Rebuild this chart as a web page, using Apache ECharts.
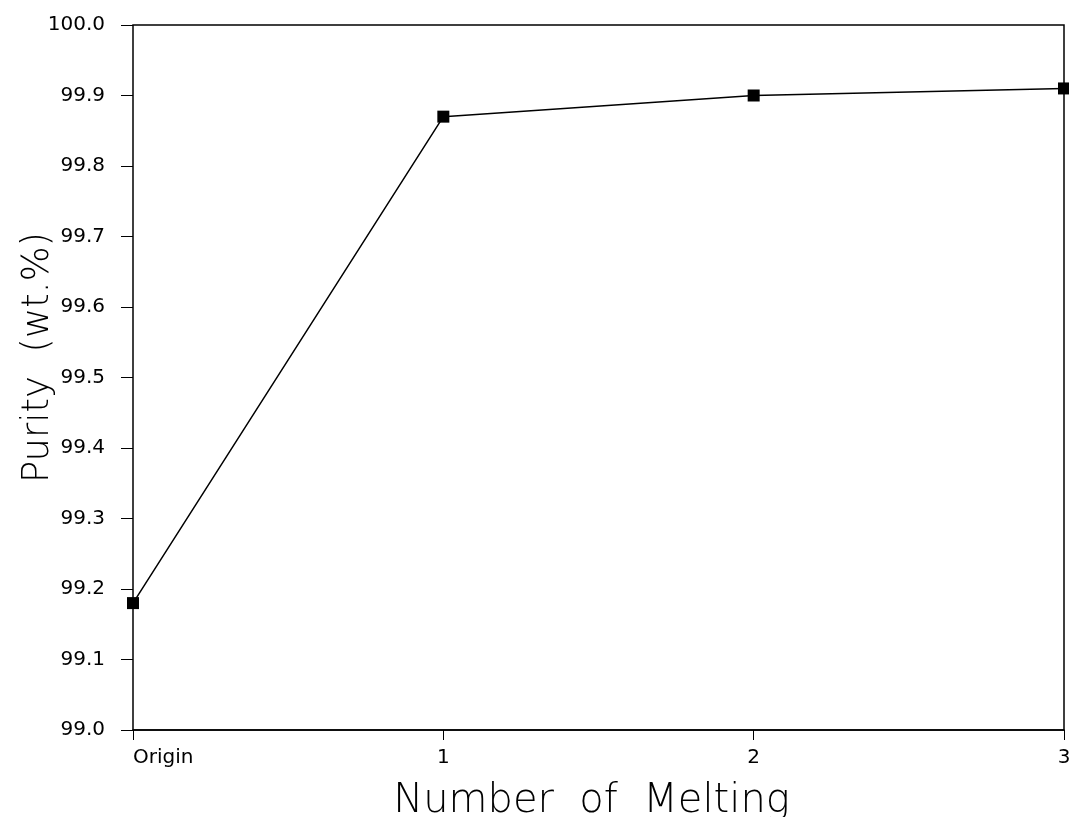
<!DOCTYPE html>
<html>
<head>
<meta charset="utf-8">
<script src="https://cdn.jsdelivr.net/npm/echarts@6/dist/echarts.min.js"></script>
<style>html,body{margin:0;padding:0;background:#fff}#c{width:1069px;height:817px}</style>
</head>
<body>
<div id="c"></div>
<script>
const categories = ['Origin', '1', '2', '3'];
const purity = [99.18, 99.87, 99.90, 99.91];
const yTicks = { min: 99.0, max: 100.0, interval: 0.1 };

const chart = echarts.init(document.getElementById('c'));
const font = 'DejaVu Sans';
chart.setOption({
  animation: false,
  backgroundColor: '#fff',
  grid: { left: 133, right: 5, top: 25, bottom: 87, show: true, borderColor: '#000', borderWidth: 1.5, outerBoundsMode: 'none' },
  xAxis: {
    type: 'category',
    data: categories,
    boundaryGap: false,
    name: 'Number  of  Melting',
    nameLocation: 'middle',
    nameGap: 52,
    nameMoveOverlap: false,
    nameTextStyle: { fontFamily: font, fontSize: 40, fontWeight: 200, color: '#000', padding: [0, 14, 0, 0] },
    axisLine: { lineStyle: { color: '#000', width: 1.5 } },
    axisTick: { show: true, length: 10, alignWithLabel: true, lineStyle: { color: '#000' } },
    axisLabel: { fontFamily: font, fontSize: 20, color: '#000', margin: 18, alignMinLabel: 'left', alignMaxLabel: 'center' },
    splitLine: { show: false }
  },
  yAxis: {
    type: 'value',
    min: yTicks.min,
    max: yTicks.max,
    interval: yTicks.interval,
    name: 'Purity  (wt.%)',
    nameLocation: 'middle',
    nameGap: 76,
    nameMoveOverlap: false,
    nameRotate: 90,
    nameTextStyle: { fontFamily: font, fontSize: 37, fontWeight: 200, color: '#000', padding: [0, 0, 0, 40] },
    axisLine: { lineStyle: { color: '#000', width: 1.5 } },
    axisTick: { show: true, length: 12, lineStyle: { color: '#000' } },
    axisLabel: { fontFamily: font, fontSize: 20, color: '#000', margin: 28, formatter: v => v.toFixed(1) },
    splitLine: { show: false }
  },
  series: [{
    type: 'line',
    data: purity,
    symbol: 'rect',
    symbolSize: 12,
    itemStyle: { color: '#000' },
    lineStyle: { color: '#000', width: 1.5 }
  }]
});
</script>
</body>
</html>
